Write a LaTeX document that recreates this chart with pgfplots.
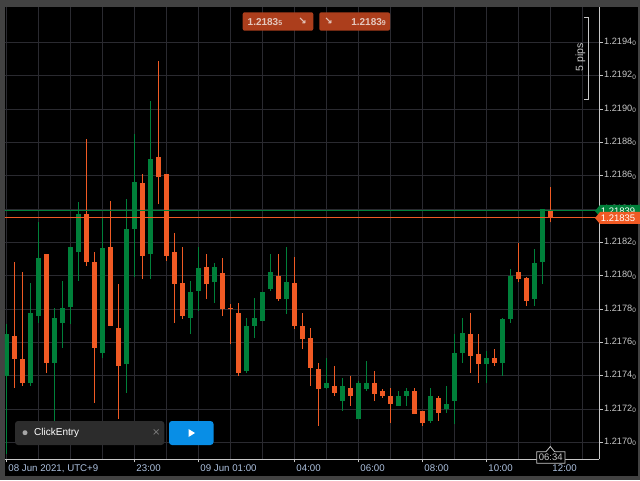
\documentclass[border=0pt]{standalone}
\usepackage{fontspec}
\setmainfont{Liberation Sans}
\newfontfamily\dejavu{DejaVu Sans}
\usepackage{pgfplots}
\pgfplotsset{compat=1.18}
\usepackage{pgfplotstable}

\definecolor{frame}{RGB}{66,66,66}
\definecolor{gridc}{RGB}{42,42,48}
\definecolor{axisc}{RGB}{200,200,200}
\definecolor{bull}{RGB}{0,128,58}
\definecolor{bear}{RGB}{240,90,36}
\definecolor{xlab}{RGB}{172,192,222}
\definecolor{ylab}{RGB}{200,200,200}
\definecolor{btn}{RGB}{172,62,28}
\definecolor{btntext}{RGB}{228,200,190}
\definecolor{panel}{RGB}{44,44,44}
\definecolor{playblue}{RGB}{8,142,230}

% EURUSD M15, candle k = 15 min after 19:00 (08 Jun)
\pgfplotstableread{
k  o       h       l       c
0  1.21740 1.21771 1.21693 1.21765
3  1.21736 1.21796 1.21734 1.21778
4  1.21776 1.21832 1.21772 1.21811
6  1.21748 1.21781 1.21712 1.21775
7  1.21772 1.21797 1.21757 1.21781
8  1.21781 1.21817 1.21771 1.21817
9  1.21814 1.21844 1.21797 1.21837
12 1.21754 1.21835 1.21751 1.21817
15 1.21747 1.21846 1.21730 1.21828
16 1.21828 1.21885 1.21799 1.21856
18 1.21813 1.21905 1.21798 1.21870
23 1.21775 1.21797 1.21765 1.21790
24 1.21791 1.21817 1.21779 1.21805
26 1.21796 1.21808 1.21784 1.21805
30 1.21743 1.21775 1.21742 1.21770
31 1.21770 1.21787 1.21763 1.21775
32 1.21773 1.21790 1.21773 1.21790
33 1.21792 1.21813 1.21791 1.21802
35 1.21786 1.21817 1.21777 1.21796
40 1.21733 1.21751 1.21732 1.21736
42 1.21725 1.21739 1.21719 1.21734
44 1.21714 1.21737 1.21714 1.21736
45 1.21732 1.21749 1.21731 1.21736
49 1.21722 1.21731 1.21722 1.21728
50 1.21728 1.21733 1.21722 1.21731
53 1.21713 1.21733 1.21712 1.21728
55 1.21720 1.21734 1.21718 1.21723
56 1.21725 1.21765 1.21711 1.21754
57 1.21754 1.21775 1.21748 1.21766
60 1.21747 1.21755 1.21736 1.21751
62 1.21748 1.21775 1.21740 1.21774
63 1.21774 1.21804 1.21772 1.21800
66 1.21786 1.21816 1.21782 1.21808
67 1.21808 1.21840 1.21795 1.21840
}\up

\pgfplotstableread{
k  o       h       l       c
1  1.21764 1.21808 1.21733 1.21750
2  1.21750 1.21802 1.21734 1.21736
5  1.21813 1.21813 1.21742 1.21748
10 1.21837 1.21882 1.21806 1.21808
11 1.21808 1.21814 1.21724 1.21757
13 1.21817 1.21845 1.21770 1.21770
14 1.21769 1.21795 1.21714 1.21746
17 1.21856 1.21861 1.21798 1.21812
19 1.21871 1.21929 1.21843 1.21859
20 1.21861 1.21861 1.21809 1.21812
21 1.21814 1.21826 1.21772 1.21795
22 1.21796 1.21817 1.21774 1.21776
25 1.21805 1.21813 1.21786 1.21795
27 1.21802 1.21811 1.21776 1.21780
28 1.21781 1.21783 1.21759 1.21780
29 1.21778 1.21784 1.21740 1.21742
34 1.21800 1.21813 1.21785 1.21786
36 1.21796 1.21811 1.21768 1.21770
37 1.21770 1.21778 1.21756 1.21762
38 1.21763 1.21769 1.21734 1.21745
39 1.21744 1.21748 1.21710 1.21732
41 1.21734 1.21746 1.21728 1.21730
43 1.21733 1.21740 1.21722 1.21728
46 1.21736 1.21743 1.21725 1.21729
47 1.21731 1.21732 1.21727 1.21728
48 1.21728 1.21733 1.21712 1.21723
51 1.21731 1.21733 1.21717 1.21717
52 1.21719 1.21719 1.21710 1.21712
54 1.21727 1.21728 1.21713 1.21718
58 1.21765 1.21778 1.21742 1.21752
59 1.21753 1.21765 1.21736 1.21747
61 1.21751 1.21756 1.21746 1.21748
64 1.21802 1.21820 1.21796 1.21798
65 1.21799 1.21799 1.21782 1.21785
68 1.21839 1.21853 1.21832 1.21835
}\down

\begin{document}
\begin{tikzpicture}
\useasboundingbox (0,0) rectangle (640pt,480pt);
\fill[frame] (0,0) rectangle (640pt,480pt);
\fill[black] (5pt,4pt) rectangle (638pt,473pt);

\begin{axis}[
    at={(5pt,21pt)}, anchor=south west,
    scale only axis, width=594pt, height=452pt,
    xmin=-0.1625, xmax=74.09,
    ymin=1.216901, ymax=1.219613,
    axis background/.style={fill=black},
    axis x line*=bottom, axis y line*=right,
    axis line style={draw=axisc, line width=1pt},
    xtick={0,16,24,36,44,52,60,68},
    xticklabels={{08 Jun 2021, UTC+9},23:00,09 Jun 01:00,04:00,06:00,08:00,10:00,12:00},
    minor xtick={4,8,...,72},
    ytick={1.2170,1.2172,1.2174,1.2176,1.2178,1.2180,1.2182,1.2184,1.2186,1.2188,1.2190,1.2192,1.2194},
    yticklabels={1.2170\textsubscript{0},1.2172\textsubscript{0},1.2174\textsubscript{0},1.2176\textsubscript{0},
      1.2178\textsubscript{0},1.2180\textsubscript{0},1.2182\textsubscript{0},1.2184\textsubscript{0},
      1.2186\textsubscript{0},1.2188\textsubscript{0},1.2190\textsubscript{0},1.2192\textsubscript{0},1.2194\textsubscript{0}},
    xmajorgrids, xminorgrids, ymajorgrids,
    major grid style={draw=gridc, line width=1pt},
    minor grid style={draw=gridc, line width=1pt},
    tick align=outside,
    major tick length=3.5pt, minor tick length=0pt,
    tick style={draw=axisc, line width=1pt},
    xticklabel style={font=\fontsize{9.7}{11}\selectfont, text=xlab, anchor=north west, inner sep=0pt, xshift=2pt, yshift=-2.5pt},
    yticklabel style={font=\fontsize{9.2}{11}\selectfont, text=ylab, anchor=west, inner sep=0pt, xshift=1.5pt, yshift=0.5pt},
  ]
  % wicks
  \addplot[draw=none, mark=none, error bars/.cd, y dir=plus, y explicit, error mark=none,
    error bar style={draw=bull, line width=1pt}]
    table[x=k, y=l, y error expr=\thisrow{h}-\thisrow{l}] {\up};
  \addplot[draw=none, mark=none, error bars/.cd, y dir=plus, y explicit, error mark=none,
    error bar style={draw=bear, line width=1pt}]
    table[x=k, y=l, y error expr=\thisrow{h}-\thisrow{l}] {\down};
  % bodies
  \addplot[draw=none, mark=none, error bars/.cd, y dir=plus, y explicit, error mark=none,
    error bar style={draw=bull, line width=5pt}]
    table[x=k, y=o, y error expr=\thisrow{c}-\thisrow{o}] {\up};
  \addplot[draw=none, mark=none, error bars/.cd, y dir=plus, y explicit, error mark=none,
    error bar style={draw=bear, line width=5pt}]
    table[x=k, y=c, y error expr=\thisrow{o}-\thisrow{c}] {\down};
  % ask / bid lines
  \addplot[bull, line width=0.9pt] coordinates {(-1,1.21839) (75,1.21839)};
  \addplot[bear, line width=0.9pt] coordinates {(-1,1.21835) (75,1.21835)};
\end{axis}

% sell / buy buttons
\fill[btn, rounded corners=2pt] (242.7pt,449.3pt) rectangle (313.3pt,467.7pt);
\fill[btn, rounded corners=2pt] (319.3pt,449.3pt) rectangle (390pt,467.7pt);
\node[anchor=base west, inner sep=0pt, text=btntext, font=\bfseries\fontsize{10}{12}\selectfont]
  at (247.5pt,454.6pt) {1.2183{\fontsize{7}{8}\selectfont 5}};
\node[text=btntext, inner sep=0pt, font=\dejavu\bfseries\fontsize{10}{11}\selectfont] at (302.5pt,458.5pt) {↘};
\node[text=btntext, inner sep=0pt, font=\dejavu\bfseries\fontsize{10}{11}\selectfont] at (328.5pt,458.5pt) {↘};
\node[anchor=base east, inner sep=0pt, text=btntext, font=\bfseries\fontsize{10}{12}\selectfont]
  at (386pt,454.6pt) {1.2183{\fontsize{7}{8}\selectfont 9}};

% 5 pips ruler
\draw[axisc, line width=1pt] (584pt,462.7pt) -- (588.3pt,462.7pt) -- (588.3pt,380pt) -- (584pt,380pt);
\node[rotate=90, text=ylab, inner sep=0pt, font=\fontsize{10.5}{12}\selectfont] at (580.5pt,422.5pt) {5 pips};

% price tags
\fill[bull] (595pt,269pt) -- (600pt,275pt) -- (640pt,275pt) -- (640pt,263pt) -- (600pt,263pt) -- cycle;
\node[text=white, inner sep=0pt, font=\fontsize{9.5}{11}\selectfont] at (618pt,269pt) {1.21839};
\fill[bear] (595pt,262pt) -- (600pt,268pt) -- (640pt,268pt) -- (640pt,256pt) -- (600pt,256pt) -- cycle;
\node[text=white, inner sep=0pt, font=\fontsize{9.5}{11}\selectfont] at (618pt,262pt) {1.21835};

% ClickEntry panel
\fill[panel, rounded corners=3pt] (15pt,35pt) rectangle (164.3pt,59pt);
\fill[gray!70] (25pt,47.3pt) circle (2.5pt);
\node[anchor=west, inner sep=0pt, text=white, font=\fontsize{10}{12}\selectfont] at (34pt,47.3pt) {ClickEntry};
\node[inner sep=0pt, text=gray, font=\dejavu\fontsize{10}{12}\selectfont] at (156.3pt,47.8pt) {×};
\fill[playblue, rounded corners=3pt] (169pt,35pt) rectangle (213.5pt,59pt);
\fill[white] (188.5pt,51pt) -- (188.5pt,43pt) -- (195pt,47pt) -- cycle;

% candle timer
\draw[axisc, fill=black, line width=0.8pt] (536.7pt,16.7pt) -- (536.7pt,28.3pt) -- (546pt,28.3pt) -- (550.3pt,33.5pt)
  -- (554.6pt,28.3pt) -- (565pt,28.3pt) -- (565pt,16.7pt) -- cycle;
\node[text=ylab, inner sep=0pt, font=\fontsize{9.5}{11}\selectfont] at (550.8pt,22.5pt) {06:34};
\end{tikzpicture}
\end{document}
